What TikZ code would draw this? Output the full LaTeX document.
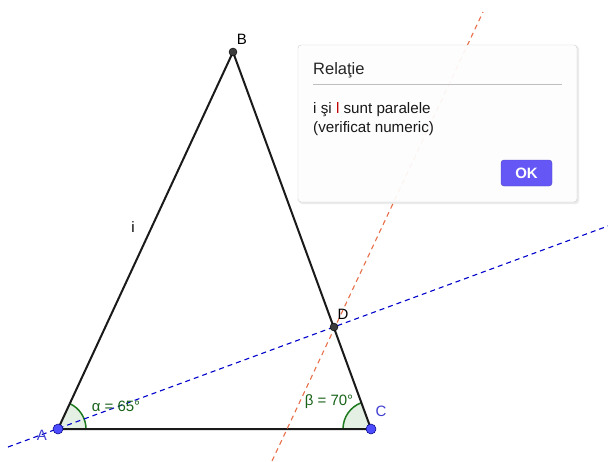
\documentclass[tikz,border=0pt]{standalone}
\usepackage{fontspec}
\setmainfont{Liberation Sans}
\usetikzlibrary{calc}
\definecolor{ptblue}{HTML}{4D4DFF}
\definecolor{lblblue}{HTML}{4040D0}
\definecolor{orangel}{HTML}{E8704A}
\definecolor{angg}{HTML}{1E7A1E}
\definecolor{angfill}{HTML}{E3F0E3}
\definecolor{okblue}{HTML}{6557F5}
\definecolor{dark}{HTML}{1A1A1A}
\tikzset{
  seg/.style={draw=dark, line width=2pt},
  bluedash/.style={draw=blue!80!black, line width=1.1pt, dash pattern=on 5pt off 4pt},
  orangedash/.style={draw=orangel, line width=1.1pt, dash pattern=on 5pt off 4pt},
  bluept/.style={circle, fill=ptblue, draw=blue!50!black, line width=0.5pt, inner sep=0pt, minimum size=10pt},
  darkpt/.style={circle, fill=dark!85, draw=black, inner sep=0pt, minimum size=8pt},
  lbl/.style={font=\fontsize{15}{17}\selectfont, inner sep=0pt},
  anglbl/.style={font=\fontsize{15}{17}\selectfont, text=angg!80!black, inner sep=0pt},
}
\begin{document}
\begin{tikzpicture}[x=1pt, y=-1pt]
\useasboundingbox (0,0) rectangle (608,461);
\fill[white] (0,0) rectangle (608,461);
\coordinate (A) at (58,429);
\coordinate (B) at (233,52);
\coordinate (C) at (371,429);
\coordinate (D) at (334,327);
\coordinate (bl1) at (8,447);
\coordinate (bl2) at (608,226);
\coordinate (or1) at (272,461);
\coordinate (or2) at (483,12);
% angle arcs
\fill[angfill] (A) -- ($(A)+(28,0)$) arc[start angle=0, end angle=65, radius=28pt] -- cycle;
\draw[angg, line width=1.5pt] ($(A)+(28,0)$) arc[start angle=0, end angle=65, radius=28pt];
\fill[angfill] (C) -- ($(C)+(-28,0)$) arc[start angle=180, end angle=110, radius=28pt] -- cycle;
\draw[angg, line width=1.5pt] ($(C)+(-28,0)$) arc[start angle=180, end angle=110, radius=28pt];
% triangle
\draw[seg] (A) -- (B) -- (C) -- cycle;
% lines
\draw[bluedash] (bl1) -- (bl2);
\draw[orangedash] (or1) -- (or2);
% points
\node[bluept] (pA) at (A) {};
\node[bluept] (pC) at (C) {};
\node[darkpt] (pB) at (B) {};
\node[darkpt] (pD) at (D) {};
% labels
\node[lbl, text=lblblue] (lA) at (42,435) {A};
\node[lbl, text=lblblue] (lC) at (381,411) {C};
\node[lbl] (lB) at (242,39) {B};
\node[lbl] (lD) at (343,314) {D};
\node[lbl] (li) at (133,227) {i};
\node[anglbl] (alpha) at (116,406) {α = 65°};
\node[anglbl] (beta) at (329,402) {β = 70°};
% dialog
\fill[black, opacity=0.08, rounded corners=3pt] (299,46) rectangle (579,204);
\draw[draw=gray!40, fill=white, fill opacity=0.93, rounded corners=3pt] (298,45) rectangle (577,202);
\draw[gray!50, line width=0.6pt] (313,84) -- (562,84);
\node[anchor=west, font=\fontsize{16.5}{18}\selectfont, text=black!85, inner sep=0pt] (title) at (313,70) {Relaţie};
\node[anchor=west, font=\fontsize{15.2}{17}\selectfont, text=black!90, inner sep=0pt] (t1) at (313,110) {i şi \textcolor{red!75!black}{l} sunt paralele};
\node[anchor=west, font=\fontsize{15.2}{17}\selectfont, text=black!90, inner sep=0pt] (t2) at (313,129) {(verificat numeric)};
\node[fill=okblue, draw=okblue!80!black, rounded corners=3pt, minimum width=51pt, minimum height=26pt, inner sep=0pt, text=white, font=\bfseries\fontsize{15}{17}\selectfont] (ok) at (526.5,173) {OK};
\end{tikzpicture}
\end{document}
